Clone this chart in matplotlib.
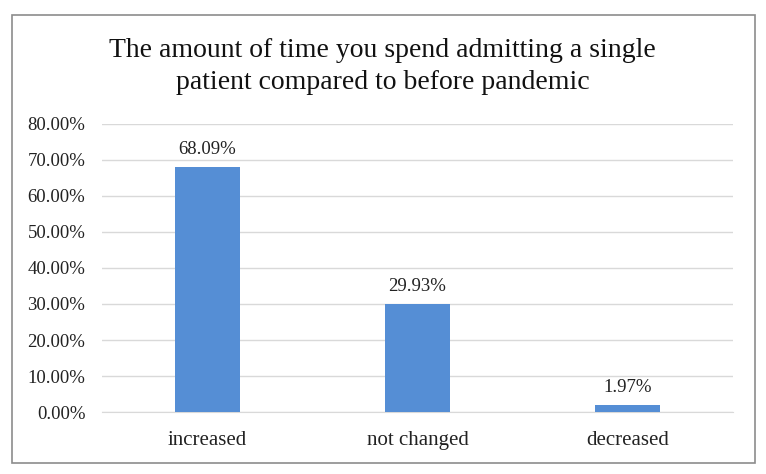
import matplotlib.pyplot as plt
from matplotlib.patches import Rectangle

categories = ['increased', 'not changed', 'decreased']
values = [68.09, 29.93, 1.97]
yticks = [0, 10, 20, 30, 40, 50, 60, 70, 80]
title = 'The amount of time you spend admitting a single\npatient compared to before pandemic'

plt.rcParams['font.family'] = ['Liberation Serif', 'DejaVu Serif']

fig = plt.figure(figsize=(7.66, 4.74), dpi=100)
ax = fig.add_axes([0.1332, 0.1308, 0.8237, 0.6076])

# outer chart border
fig.patches.append(Rectangle((12 / 766, 11 / 474), 743 / 766, 448 / 474,
                             transform=fig.transFigure, fill=False,
                             edgecolor='#8c8c8c', linewidth=1.2))

x = range(len(categories))
bars = ax.bar(x, values, width=0.31, color='#558ed5', zorder=3)
for b, v in zip(bars, values):
    ax.text(b.get_x() + b.get_width() / 2, v + 3.6, f'{v:.2f}%',
            ha='center', va='baseline', fontsize=13.5, color='#222222')

ax.set_xlim(-0.5, 2.5)
ax.set_ylim(0, 80)
ax.set_yticks(yticks)
ax.set_yticklabels([f'{t:.2f}%' for t in yticks], fontsize=13.5)
ax.set_xticks(list(x))
ax.set_xticklabels(categories, fontsize=15)
ax.grid(axis='y', color='#d9d9d9', linewidth=1, zorder=0)
for s in ['top', 'right', 'left']:
    ax.spines[s].set_visible(False)
ax.spines['bottom'].set_color('#d9d9d9')
ax.tick_params(length=0, colors='#222222')
ax.tick_params(axis='x', pad=14)
ax.tick_params(axis='y', pad=12)

fig.text(0.4997, 0.92, title, ha='center', va='top', fontsize=20,
         linespacing=1.38, color='#111111')

fig.savefig('out.png', dpi=100)
